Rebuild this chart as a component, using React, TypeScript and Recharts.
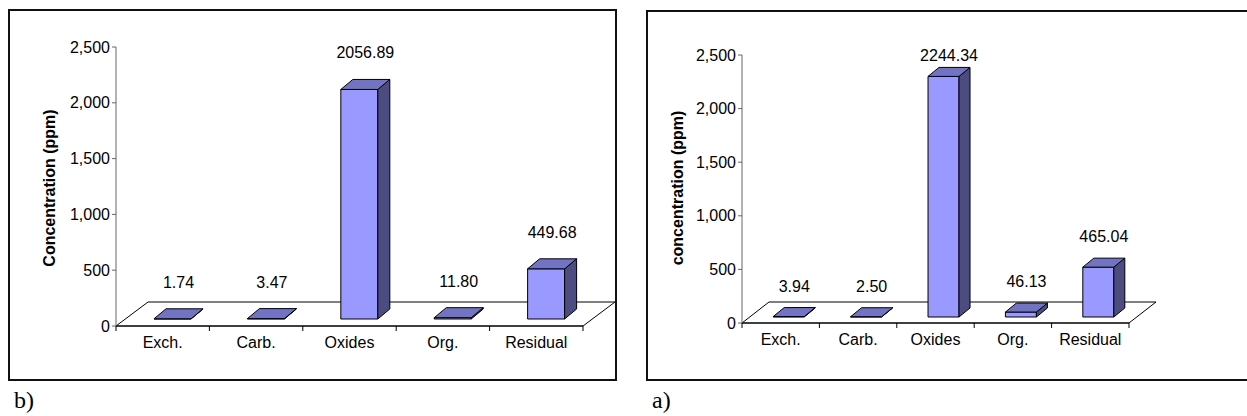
import React from "react";
import { BarChart, Bar, XAxis, YAxis, ReferenceArea, LabelList } from "recharts";

// fractions of the sequential extraction
const categories = ["Exch.", "Carb.", "Oxides", "Org.", "Residual"];
// panel a) and panel b) concentrations (ppm)
const valuesA = [3.94, 2.5, 2244.34, 46.13, 465.04];
const valuesB = [1.74, 3.47, 2056.89, 11.8, 449.68];
const yTicks = [0, 500, 1000, 1500, 2000, 2500];

const FONT = "'Liberation Sans', Arial, sans-serif";
const FRONT = "#9999ff";
const TOP = "#7373c4";
const SIDE = "#4c4c80";

type Geo = {
  left: number;
  width: number;
  plotLeft: number;
  plotRight: number;
  plotTop: number;
  plotBottom: number;
  floorDepth: [number, number];
  barDepth: [number, number];
  shiftX: number;
  shiftY: number;
  labelGap: number;
  labelMinY: number;
  yLabelX: number;
};

const geoB: Geo = {
  left: 0, width: 630,
  plotLeft: 116, plotRight: 583, plotTop: 47, plotBottom: 326,
  floorDepth: [32, 24], barDepth: [12, 10],
  shiftX: 10, shiftY: 7, labelGap: 31, labelMinY: 0, yLabelX: 55,
};

const geoA: Geo = {
  left: 630, width: 617,
  plotLeft: 112, plotRight: 499, plotTop: 55, plotBottom: 323,
  floorDepth: [27, 21], barDepth: [11, 9],
  shiftX: 8, shiftY: 6, labelGap: 25, labelMinY: 61, yLabelX: 53,
};

const YLabel = ({ text, lx, ly }: any) => (
  <text
    transform={`translate(${lx},${ly}) rotate(-90)`}
    textAnchor="middle"
    fontWeight="bold"
    fontSize={16}
    fontFamily={FONT}
    fill="#000"
  >
    {text}
  </text>
);

function Panel({ values, yLabel, g }: { values: number[]; yLabel: string; g: Geo }) {
  const data = categories.map((name, i) => ({ name, value: values[i] }));
  const band = (g.plotRight - g.plotLeft) / categories.length;
  const yAxisW = 60;
  const xAxisH = 40;
  const height = 416;

  const floor = (p: any) => {
    const b = p.y + p.height;
    const x0 = p.x;
    const x1 = p.x + p.width;
    const [dx, dy] = g.floorDepth;
    return (
      <polygon
        points={`${x0},${b} ${x1},${b} ${x1 + dx},${b - dy} ${x0 + dx},${b - dy}`}
        fill="#fff"
        stroke="#000"
        strokeWidth={1}
      />
    );
  };

  const bar3d = (p: any) => {
    const w = p.width;
    const h = Math.max(p.height, 0);
    const x = p.x + g.shiftX;
    const y = p.y - g.shiftY;
    const b = y + h;
    const [dx, dy] = g.barDepth;
    return (
      <g stroke="#000" strokeWidth={1} strokeLinejoin="round">
        <rect x={x} y={y} width={w} height={h} fill={FRONT} />
        <polygon
          points={`${x + w},${y} ${x + w + dx},${y - dy} ${x + w + dx},${b - dy} ${x + w},${b}`}
          fill={SIDE}
        />
        <polygon
          points={`${x},${y} ${x + w},${y} ${x + w + dx},${y - dy} ${x + dx},${y - dy}`}
          fill={TOP}
        />
      </g>
    );
  };

  const renderLabel = (p: any) => {
    const vb = p.viewBox && p.viewBox.width !== undefined ? p.viewBox : p;
    const cx = vb.x + vb.width / 2 + g.shiftX + g.barDepth[0] / 2;
    const top = Math.min(vb.y, vb.y + vb.height) - g.shiftY;
    const by = Math.max(top - g.labelGap, g.labelMinY);
    return (
      <text x={cx} y={by} textAnchor="middle" fontSize={16} fontFamily={FONT} fill="#000">
        {Number(p.value).toFixed(2)}
      </text>
    );
  };

  const CatTick = (p: any) => {
    const { x, y, payload } = p;
    const half = band / 2;
    return (
      <g>
        {payload.index === 0 && (
          <line x1={x - half} y1={y} x2={x - half} y2={y + 5} stroke="#000" />
        )}
        <line x1={x + half} y1={y} x2={x + half} y2={y + 5} stroke="#000" />
        <text x={x} y={y + 22} textAnchor="middle" fontSize={16} fontFamily={FONT} fill="#000">
          {payload.value}
        </text>
      </g>
    );
  };

  return (
    <div style={{ position: "absolute", left: g.left, top: 0 }}>
      <BarChart
        width={g.width}
        height={height}
        data={data}
        barCategoryGap="30%"
        margin={{
          top: g.plotTop,
          left: g.plotLeft - yAxisW,
          right: g.width - g.plotRight,
          bottom: height - g.plotBottom - xAxisH,
        }}
      >
        <ReferenceArea y1={0} y2={2500} shape={floor} ifOverflow="visible" />
        <XAxis
          dataKey="name"
          interval={0}
          height={xAxisH}
          axisLine={{ stroke: "#000" }}
          tickLine={false}
          tickSize={0}
          tickMargin={0}
          tick={<CatTick />}
        />
        <YAxis
          width={yAxisW}
          domain={[0, 2500]}
          ticks={yTicks}
          interval={0}
          tickFormatter={(v: number) => v.toLocaleString("en-US")}
          axisLine={{ stroke: "#666" }}
          tickLine={{ stroke: "#666" }}
          tickSize={4}
          tickMargin={2}
          tick={{ fill: "#000", fontSize: 16, fontFamily: FONT }}
          label={<YLabel text={yLabel} lx={g.yLabelX} ly={188} />}
        />
        <Bar dataKey="value" shape={bar3d} isAnimationActive={false}>
          <LabelList dataKey="value" content={renderLabel} />
        </Bar>
      </BarChart>
    </div>
  );
}

export default function App() {
  const box = { position: "absolute" as const, border: "2px solid #111", boxSizing: "border-box" as const };
  const tag = {
    position: "absolute" as const,
    fontFamily: "'Liberation Serif', 'Times New Roman', serif",
    fontSize: 24,
    lineHeight: "24px",
    color: "#000",
  };
  return (
    <div
      style={{
        position: "absolute",
        left: 0,
        top: 0,
        width: 1247,
        height: 416,
        overflow: "hidden",
        background: "#fff",
      }}
    >
      <div style={{ ...box, left: 8, top: 9, width: 609, height: 372 }} />
      <div style={{ ...box, left: 646, top: 10, width: 700, height: 371 }} />
      <Panel values={valuesB} yLabel="Concentration (ppm)" g={geoB} />
      <Panel values={valuesA} yLabel="concentration (ppm)" g={geoA} />
      <div style={{ ...tag, left: 14, top: 388 }}>b)</div>
      <div style={{ ...tag, left: 652, top: 388 }}>a)</div>
    </div>
  );
}
